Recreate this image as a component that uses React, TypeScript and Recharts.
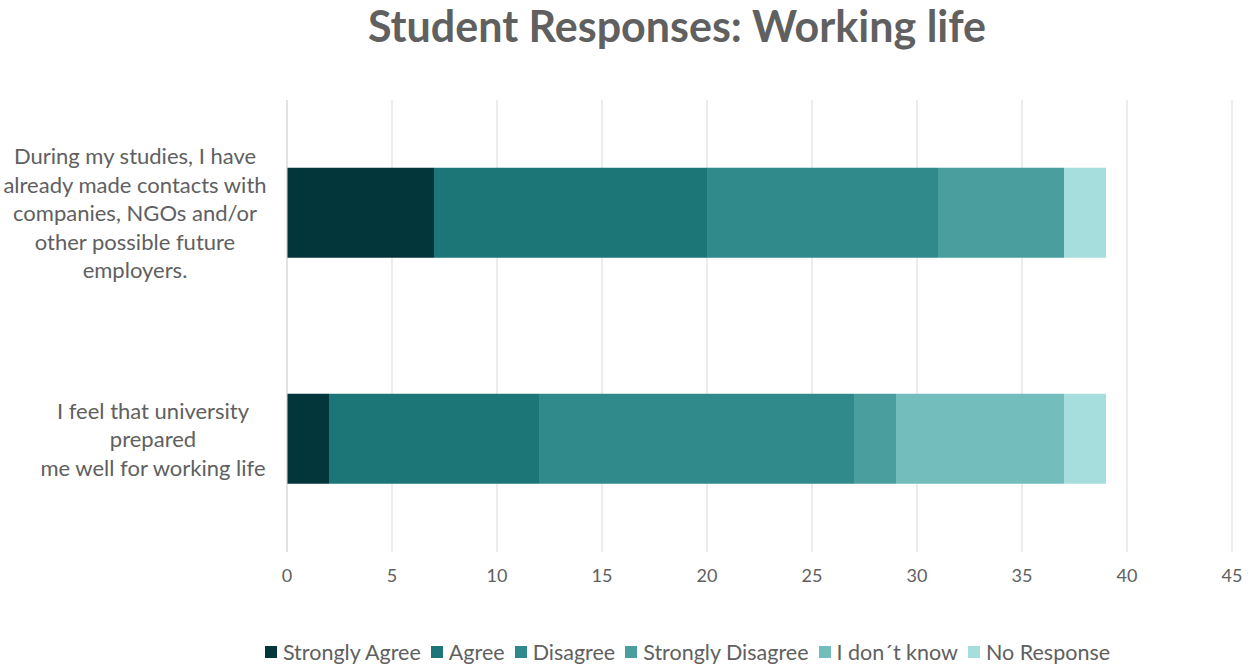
import React from 'react';
import { BarChart, Bar, XAxis, YAxis, CartesianGrid } from 'recharts';

const categories = [
  'During my studies, I have|already made contacts with|companies, NGOs and/or|other possible future|employers.',
  'I feel that university|prepared|me well for working life',
];
const seriesNames = ['Strongly Agree', 'Agree', 'Disagree', 'Strongly Disagree', 'I don´t know', 'No Response'];
const stronglyAgree = [7, 2];
const agree = [13, 10];
const disagree = [11, 15];
const stronglyDisagree = [6, 2];
const dontKnow = [0, 8];
const noResponse = [2, 2];
const xTicks = [0, 5, 10, 15, 20, 25, 30, 35, 40, 45];

const seriesValues = [stronglyAgree, agree, disagree, stronglyDisagree, dontKnow, noResponse];
const colors = ['#03363A', '#1C7677', '#308A8B', '#4A9E9E', '#73BDBC', '#A6DEDE'];
const keys = ['sa', 'a', 'd', 'sd', 'dk', 'nr'];

const data = categories.map((c, i) => {
  const row: any = { cat: c };
  keys.forEach((k, j) => { row[k] = seriesValues[j][i]; });
  return row;
});

const FONT = 'Lato, "Open Sans", sans-serif';
const GRAY = '#606060';

const YTick = (props: any) => {
  const { y, payload, index } = props;
  const lines = String(payload.value).split('|');
  const lh = 28.5;
  const cx = index === 0 ? 135 : 153;
  const start = y - ((lines.length - 1) * lh) / 2;
  return (
    <g>
      {lines.map((l, i) => (
        <text key={i} x={cx} y={start + i * lh} dy={8} textAnchor="middle" fill={GRAY}
          fontFamily={FONT} fontSize={22}>{l}</text>
      ))}
    </g>
  );
};

const XTick = (props: any) => {
  const { x, y, payload } = props;
  return (
    <text x={x} y={y} dy={22} textAnchor="middle" fill={GRAY} fontFamily={FONT} fontSize={18}>
      {payload.value}
    </text>
  );
};

export default function App() {
  return (
    <div style={{ position: 'absolute', left: 0, top: 0, width: 1250, height: 666, background: '#fff' }}>
      <div style={{ position: 'absolute', left: 0, top: 0, width: 1354, textAlign: 'center', fontFamily: FONT,
        fontWeight: 700, fontSize: 43, lineHeight: 1.2, color: GRAY }}>
        Student Responses: Working life
      </div>
      <BarChart width={1250} height={666} data={data} layout="vertical"
        margin={{ top: 100, right: 18, bottom: 74, left: 0 }} barCategoryGap="30%">
        <CartesianGrid horizontal={false} stroke="#D9D9D9" />
        <XAxis type="number" domain={[0, 45]} ticks={xTicks} axisLine={false} tickLine={false}
          tick={<XTick />} interval={0} height={40} />
        <YAxis type="category" dataKey="cat" width={287} axisLine={{ stroke: '#D9D9D9' }} tickLine={false}
          tick={<YTick />} interval={0} />
        {keys.map((k, j) => (
          <Bar key={k} dataKey={k} stackId="s" fill={colors[j]} name={seriesNames[j]} isAnimationActive={false} />
        ))}
      </BarChart>
      <div style={{ position: 'absolute', left: 0, top: 639, width: 1385, display: 'flex', justifyContent: 'center',
        fontFamily: FONT, fontSize: 21.5, color: GRAY }}>
        {seriesNames.map((n, j) => (
          <div key={n} style={{ display: 'flex', alignItems: 'center', marginRight: 10 }}>
            <span style={{ width: 12, height: 12, background: colors[j], display: 'inline-block', marginRight: 6 }} />
            <span>{n}</span>
          </div>
        ))}
      </div>
    </div>
  );
}
